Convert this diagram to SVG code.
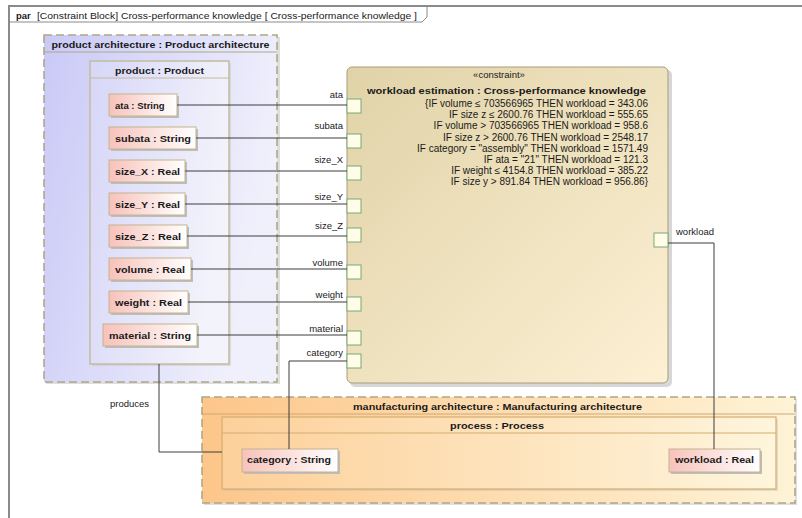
<svg xmlns="http://www.w3.org/2000/svg" width="802" height="518" viewBox="0 0 802 518">
<defs>
<linearGradient id="gAttr" x1="0" y1="0" x2="1" y2="0"><stop offset="0" stop-color="#f7c2bb"/><stop offset="1" stop-color="#ffffff"/></linearGradient>
<linearGradient id="gProdArch" x1="0" y1="0" x2="1" y2="0.3"><stop offset="0" stop-color="#c9c9f7"/><stop offset="1" stop-color="#f0f0fc"/></linearGradient>
<linearGradient id="gProd" x1="0" y1="0" x2="1" y2="0.3"><stop offset="0" stop-color="#d6d6f8"/><stop offset="1" stop-color="#f3f3fc"/></linearGradient>
<linearGradient id="gCons" x1="0" y1="0" x2="1" y2="1"><stop offset="0" stop-color="#e0d3a8"/><stop offset="1" stop-color="#fdf0d4"/></linearGradient>
<linearGradient id="gManu" x1="0" y1="0" x2="1" y2="0"><stop offset="0" stop-color="#fdc68a"/><stop offset="1" stop-color="#fef3d6"/></linearGradient>
<linearGradient id="gProc" x1="0" y1="0" x2="1" y2="0"><stop offset="0" stop-color="#fdd09a"/><stop offset="1" stop-color="#fef5dc"/></linearGradient>
</defs>
<style>
text{font-family:"Liberation Sans",Arial,sans-serif;fill:#1a1a1a;font-size:9.5px}
.b{font-weight:bold}
.e{text-anchor:end}
.m{text-anchor:middle}
.rule{font-size:10px;text-anchor:end}
.attr{fill:url(#gAttr);stroke:#c4b48c;stroke-width:1}
.shadow{fill:#bdbdbd}
.port{fill:#fffde8;stroke:#79a878;stroke-width:1}
.conn{fill:none;stroke:#3c3c3c;stroke-width:1}
.dash{stroke-dasharray:8 4;stroke-width:1.6}
</style>
<g id="frame">
<path d="M9 518 V6 H802" fill="none" stroke="#8a8a8a" stroke-width="2"/>
<path d="M9 22 H422 L427 17 V6" fill="none" stroke="#8a8a8a" stroke-width="1"/>
<text x="16" y="18.5" class="b">par</text>
<text x="37" y="18.5" textLength="380" lengthAdjust="spacingAndGlyphs">[Constraint Block] Cross-performance knowledge [ Cross-performance knowledge ]</text>
</g>
<g id="product-architecture">
<rect x="46" y="37" width="234" height="347" class="shadow" opacity="0.5"/>
<rect x="44" y="35" width="233" height="347" fill="url(#gProdArch)" stroke="#b0a688" class="dash"/>
<line x1="44" y1="52" x2="277" y2="52" stroke="#b0a688" stroke-width="1"/>
<text x="160.5" y="47.5" class="b m" textLength="218" lengthAdjust="spacingAndGlyphs">product architecture : Product architecture</text>
</g>
<g id="product">
<rect x="92" y="63" width="139" height="303" class="shadow" opacity="0.4"/>
<rect x="90" y="61" width="139" height="303" fill="url(#gProd)" stroke="#c4bc9c" stroke-width="1.5"/>
<line x1="90" y1="78" x2="229" y2="78" stroke="#c4bc9c" stroke-width="1"/>
<text x="159.5" y="74" class="b m" textLength="89" lengthAdjust="spacingAndGlyphs">product : Product</text>
</g>
<g id="attr-ata"><rect x="111" y="96" width="68" height="22" class="shadow"/><rect x="109" y="94" width="68" height="22" class="attr"/><text x="115" y="108.5" class="b">ata : String</text></g>
<g id="attr-subata"><rect x="111" y="129" width="87" height="22" class="shadow"/><rect x="109" y="127" width="87" height="22" class="attr"/><text x="115" y="141.5" class="b" textLength="76" lengthAdjust="spacingAndGlyphs">subata : String</text></g>
<g id="attr-size_X"><rect x="111" y="162" width="76" height="22" class="shadow"/><rect x="109" y="160" width="76" height="22" class="attr"/><text x="115" y="174.5" class="b" textLength="65" lengthAdjust="spacingAndGlyphs">size_X : Real</text></g>
<g id="attr-size_Y"><rect x="111" y="195" width="76" height="22" class="shadow"/><rect x="109" y="193" width="76" height="22" class="attr"/><text x="115" y="207.5" class="b" textLength="65" lengthAdjust="spacingAndGlyphs">size_Y : Real</text></g>
<g id="attr-size_Z"><rect x="111" y="227" width="78" height="22" class="shadow"/><rect x="109" y="225" width="78" height="22" class="attr"/><text x="115" y="239.5" class="b" textLength="66" lengthAdjust="spacingAndGlyphs">size_Z : Real</text></g>
<g id="attr-volume"><rect x="111" y="260" width="82" height="22" class="shadow"/><rect x="109" y="258" width="82" height="22" class="attr"/><text x="115" y="272.5" class="b" textLength="70" lengthAdjust="spacingAndGlyphs">volume : Real</text></g>
<g id="attr-weight"><rect x="111" y="293" width="79" height="22" class="shadow"/><rect x="109" y="291" width="79" height="22" class="attr"/><text x="115" y="305.5" class="b" textLength="67" lengthAdjust="spacingAndGlyphs">weight : Real</text></g>
<g id="attr-material"><rect x="105" y="326" width="94" height="22" class="shadow"/><rect x="103" y="324" width="94" height="22" class="attr"/><text x="109" y="338.5" class="b" textLength="82" lengthAdjust="spacingAndGlyphs">material : String</text></g>
<g id="constraint-block">
<rect x="350" y="70" width="322" height="317" rx="5" class="shadow" opacity="0.6"/>
<rect x="347" y="67" width="321" height="316" rx="5" fill="url(#gCons)" stroke="#a89c78" stroke-width="1"/>
<text x="499" y="78" class="m" font-size="8.5">«constraint»</text>
<text x="506.5" y="94" class="b m" textLength="279" lengthAdjust="spacingAndGlyphs">workload estimation : Cross-performance knowledge</text>
<text x="648" y="107" class="rule">{IF volume ≤ 703566965 THEN workload = 343.06</text>
<text x="648" y="118" class="rule">IF size z ≤ 2600.76 THEN workload = 555.65</text>
<text x="648" y="129" class="rule">IF volume &gt; 703566965 THEN workload = 958.6</text>
<text x="648" y="140.5" class="rule">IF size z &gt; 2600.76 THEN workload = 2548.17</text>
<text x="648" y="152" class="rule">IF category = "assembly" THEN workload = 1571.49</text>
<text x="648" y="163" class="rule">IF ata = "21" THEN workload = 121.3</text>
<text x="648" y="174" class="rule">IF weight ≤ 4154.8 THEN workload = 385.22</text>
<text x="648" y="184.5" class="rule">IF size y &gt; 891.84 THEN workload = 956.86}</text>
<rect x="347" y="99" width="14" height="14" class="port"/>
<rect x="347" y="134" width="14" height="14" class="port"/>
<rect x="347" y="166" width="14" height="14" class="port"/>
<rect x="347" y="199" width="14" height="14" class="port"/>
<rect x="347" y="228" width="14" height="14" class="port"/>
<rect x="347" y="265" width="14" height="14" class="port"/>
<rect x="347" y="297" width="14" height="14" class="port"/>
<rect x="347" y="331" width="14" height="14" class="port"/>
<rect x="347" y="354" width="14" height="14" class="port"/>
<rect x="654" y="233" width="14" height="14" class="port"/>
<text x="343" y="98" class="e">ata</text>
<text x="343" y="129" class="e">subata</text>
<text x="343" y="163" class="e">size_X</text>
<text x="343" y="200" class="e">size_Y</text>
<text x="343" y="229" class="e">size_Z</text>
<text x="343" y="266" class="e">volume</text>
<text x="343" y="298" class="e">weight</text>
<text x="343" y="332" class="e">material</text>
<text x="343" y="356" class="e">category</text>
<text x="676" y="235">workload</text>
</g>
<g id="manufacturing-architecture">
<rect x="204" y="399" width="593" height="106" class="shadow" opacity="0.5"/>
<rect x="202" y="397" width="593" height="106" fill="url(#gManu)" stroke="#b0a688" class="dash"/>
<line x1="202" y1="414" x2="795" y2="414" stroke="#d0a870" stroke-width="1"/>
<text x="497.5" y="409.5" class="b m" textLength="289" lengthAdjust="spacingAndGlyphs">manufacturing architecture : Manufacturing architecture</text>
</g>
<g id="process">
<rect x="224" y="419" width="554" height="72" class="shadow" opacity="0.4"/>
<rect x="222" y="417" width="554" height="72" fill="url(#gProc)" stroke="#d4ac70" stroke-width="1.2"/>
<line x1="222" y1="433" x2="776" y2="433" stroke="#d4ac70" stroke-width="1"/>
<text x="497" y="429" class="b m" textLength="94" lengthAdjust="spacingAndGlyphs">process : Process</text>
</g>
<g id="attr-category"><rect x="244" y="451" width="96" height="23" class="shadow"/><rect x="242" y="449" width="96" height="23" class="attr"/><text x="247" y="463" class="b" textLength="84" lengthAdjust="spacingAndGlyphs">category : String</text></g>
<g id="attr-workload"><rect x="671" y="451" width="91" height="23" class="shadow"/><rect x="669" y="449" width="91" height="23" class="attr"/><text x="675" y="463" class="b" textLength="79" lengthAdjust="spacingAndGlyphs">workload : Real</text></g>
<g id="connectors">
<path class="conn" d="M177 105 H347"/>
<path class="conn" d="M196 138 H347"/>
<path class="conn" d="M185 171 H347"/>
<path class="conn" d="M185 204 H347"/>
<path class="conn" d="M187 236 H347"/>
<path class="conn" d="M191 269 H347"/>
<path class="conn" d="M188 302 H347"/>
<path class="conn" d="M197 335 H347"/>
<path class="conn" d="M347 361 H289 V449"/>
<path class="conn" d="M668 243 H714 V449"/>
<path class="conn" d="M159 364 V452 H222"/>
<text x="110" y="407">produces</text>
</g>
</svg>
